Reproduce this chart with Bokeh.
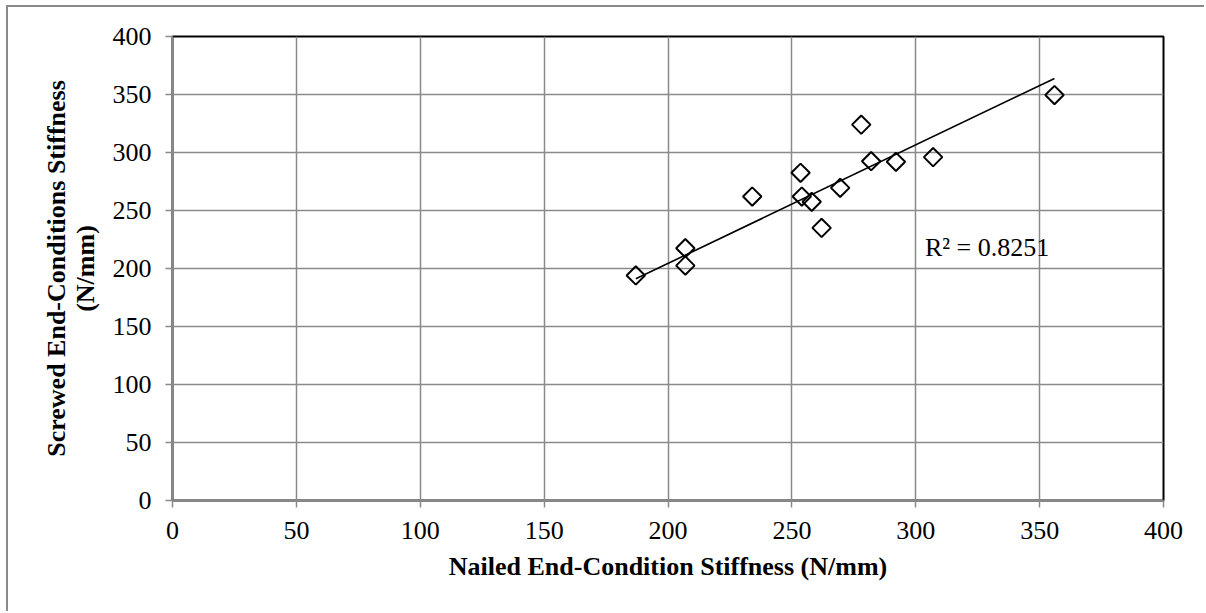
import numpy as np
from bokeh.plotting import figure
from bokeh.models import Range1d, FixedTicker, Label, ColumnDataSource
from bokeh.embed import file_html
from bokeh.resources import INLINE

# Data
nailed = [187, 207, 207, 234, 253.5, 254, 258, 262, 269.5, 278, 282, 292, 307, 356]
screwed = [194, 217.5, 202.5, 262, 282.5, 262, 257.5, 235, 269.5, 324, 292.5, 292, 296, 349.5]
tick_values = [0, 50, 100, 150, 200, 250, 300, 350, 400]
r2_text = "R² = 0.8251"

FONT = "Liberation Serif"

p = figure(width=1198, height=606, output_backend="svg", toolbar_location=None,
           x_range=Range1d(0, 400), y_range=Range1d(0, 400),
           min_border_left=164, min_border_top=29, min_border_right=43, min_border_bottom=113,
           background_fill_color="white", border_fill_color="white")
p.styles = {"border-left": "2px solid #8a8a8a", "border-top": "2px solid #8a8a8a",
            "margin-left": "6px", "margin-top": "5px"}

p.outline_line_color = "black"
p.outline_line_width = 2

for ax in (p.xaxis[0], p.yaxis[0]):
    ax.ticker = FixedTicker(ticks=tick_values)
    ax.axis_line_color = "#8a8a8a"
    ax.axis_line_width = 2
    ax.major_tick_line_color = "#8a8a8a"
    ax.major_tick_line_width = 1.5
    ax.major_tick_out = 7
    ax.major_tick_in = 0
    ax.minor_tick_line_color = None
    ax.major_label_text_font = FONT
    ax.major_label_text_font_size = "26px"
    ax.major_label_text_color = "black"
    ax.axis_label_text_font = FONT
    ax.axis_label_text_font_size = "26px"
    ax.axis_label_text_font_style = "bold"
    ax.axis_label_text_color = "black"

p.xaxis[0].axis_label = "Nailed End-Condition Stiffness (N/mm)"
p.yaxis[0].axis_label = "Screwed End-Conditions Stiffness\n(N/mm)"
p.yaxis[0].axis_label_text_line_height = 1.0
p.xaxis[0].major_label_standoff = 14
p.yaxis[0].major_label_standoff = 14
p.xaxis[0].axis_label_standoff = 10
p.yaxis[0].axis_label_standoff = 10

for g in (p.xgrid[0], p.ygrid[0]):
    g.ticker = FixedTicker(ticks=tick_values)
    g.grid_line_color = "#8a8a8a"
    g.grid_line_width = 1.5

# Linear trendline (intercept forced at 0) computed from data
xa = np.array(nailed, dtype=float)
ya = np.array(screwed, dtype=float)
slope = float((xa * ya).sum() / (xa * xa).sum())
tx = [float(xa.min()), float(xa.max())]
ty = [slope * v for v in tx]
p.line(tx, ty, line_color="black", line_width=1.6)

src = ColumnDataSource(dict(x=nailed, y=screwed))
p.scatter("x", "y", source=src, marker="square", size=13, angle=np.pi / 4,
          fill_color=None, line_color="black", line_width=2)

p.add_layout(Label(x=303.7, y=217.7, text=r2_text, text_font=FONT, text_font_size="26px",
                   text_color="black", text_baseline="alphabetic"))

open("out.html", "w").write(file_html(p, INLINE))
